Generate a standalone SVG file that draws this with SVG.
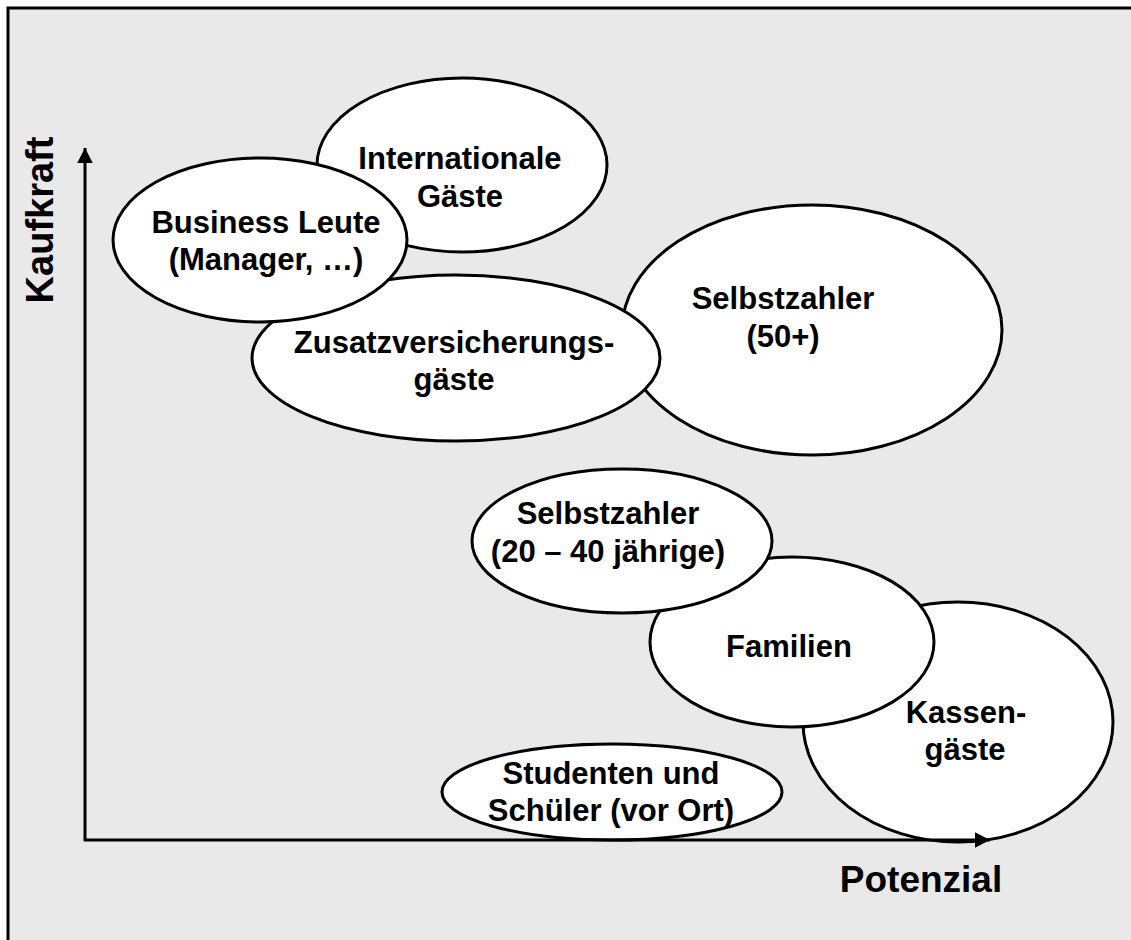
<svg xmlns="http://www.w3.org/2000/svg" width="1131" height="940" viewBox="0 0 1131 940">
<defs>
<style>
.bg{fill:#e9e9e9;stroke:#000;stroke-width:3}
.node ellipse{fill:#fff;stroke:#000;stroke-width:3}
text{font-family:"Liberation Sans",Arial,sans-serif;font-weight:bold;fill:#000}
.lbl{font-size:31px;text-anchor:middle}
.axis{stroke:#000;stroke-width:3;fill:none}
</style>
<marker id="arr" markerWidth="6" markerHeight="6" refX="5" refY="3" orient="auto" markerUnits="strokeWidth">
<path d="M0,0.4 L5,3 L0,5.6 z" fill="#000"/>
</marker>
</defs>
<rect class="bg" x="8" y="8" width="1140" height="950"/>
<g id="node-international" class="node">
<ellipse cx="462" cy="165" rx="145" ry="87"/>
<text class="lbl" x="460" y="169">Internationale</text>
<text class="lbl" x="460" y="207">Gäste</text>
</g>
<g id="node-selbstzahler50" class="node">
<ellipse cx="812" cy="330" rx="190" ry="125"/>
<text class="lbl" x="783" y="309">Selbstzahler</text>
<text class="lbl" x="783" y="347">(50+)</text>
</g>
<g id="node-zusatz" class="node">
<ellipse cx="456" cy="358" rx="204" ry="83"/>
<text class="lbl" x="454" y="353">Zusatzversicherungs-</text>
<text class="lbl" x="454" y="390">gäste</text>
</g>
<g id="node-business" class="node">
<ellipse cx="260" cy="240" rx="147" ry="82"/>
<text class="lbl" x="266" y="233">Business Leute</text>
<text class="lbl" x="266" y="270">(Manager, …)</text>
</g>
<g id="node-kassen" class="node">
<ellipse cx="958" cy="722" rx="155" ry="120"/>
<text class="lbl" x="966" y="723">Kassen-</text>
<text class="lbl" x="965" y="760">gäste</text>
</g>
<g id="node-familien" class="node">
<ellipse cx="792" cy="642" rx="142" ry="85"/>
<text class="lbl" x="789" y="657">Familien</text>
</g>
<g id="node-selbstzahler2040" class="node">
<ellipse cx="622" cy="541" rx="150" ry="72"/>
<text class="lbl" x="608" y="524">Selbstzahler</text>
<text class="lbl" x="608" y="562">(20 – 40 jährige)</text>
</g>
<g id="node-studenten" class="node">
<ellipse cx="612" cy="792" rx="170" ry="48"/>
<text class="lbl" x="611" y="784">Studenten und</text>
<text class="lbl" x="611" y="821">Schüler (vor Ort)</text>
</g>
<g id="connectors">
<line class="axis" x1="85" y1="841" x2="85" y2="148" marker-end="url(#arr)"/>
<line class="axis" x1="84" y1="840" x2="990" y2="840" marker-end="url(#arr)"/>
</g>
<text x="53" y="220" font-size="38" text-anchor="middle" transform="rotate(-90 53 220)">Kaufkraft</text>
<text x="921" y="892" font-size="37" text-anchor="middle">Potenzial</text>
</svg>
